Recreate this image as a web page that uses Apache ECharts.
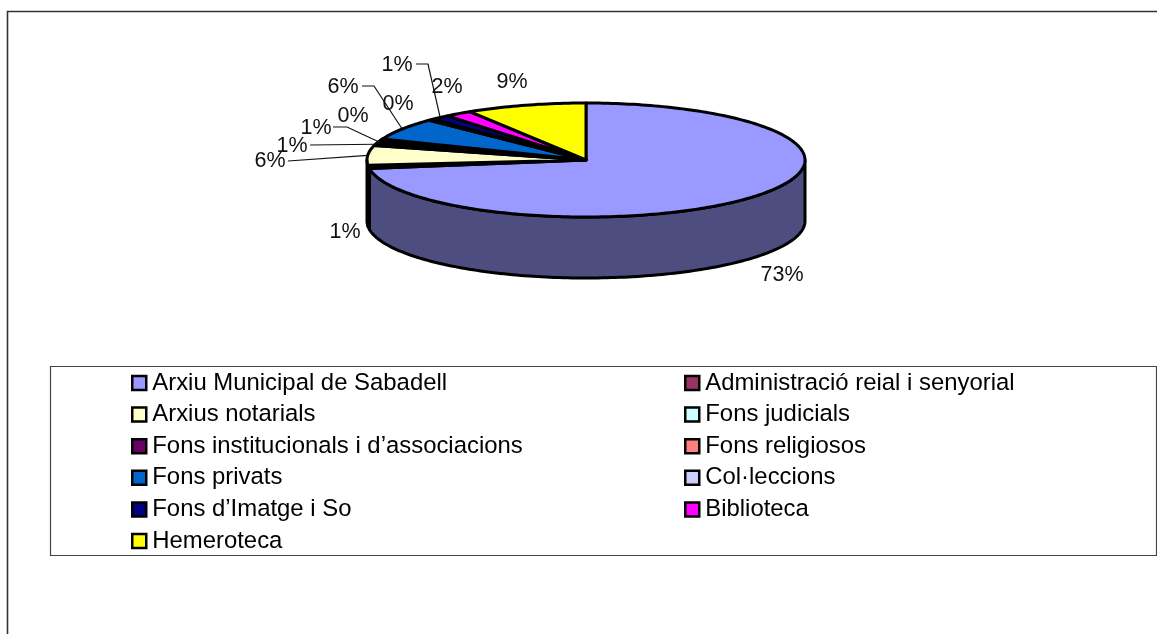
<!DOCTYPE html>
<html>
<head>
<meta charset="utf-8">
<title>Arxiu Municipal de Sabadell</title>
<script src="https://cdn.jsdelivr.net/npm/echarts@6/dist/echarts.min.js"></script>
<style>
  html, body { margin: 0; padding: 0; background: #fff; }
  #chart { width: 1157px; height: 634px; }
</style>
</head>
<body>
<div id="chart"></div>
<script>
const categories = [
  "Arxiu Municipal de Sabadell",
  "Administració reial i senyorial",
  "Arxius notarials",
  "Fons judicials",
  "Fons institucionals i d’associacions",
  "Fons religiosos",
  "Fons privats",
  "Col·leccions",
  "Fons d’Imatge i So",
  "Biblioteca",
  "Hemeroteca",
];
// percentages
const values = [72.6, 0.9, 5.6, 0.7, 0.8, 0.4, 6.3, 0.4, 1.4, 2.0, 8.9];
const colors = [
  "#9999ff", "#993366", "#ffffcc", "#ccffff", "#660066", "#ff8080",
  "#0066cc", "#ccccff", "#000080", "#ff00ff", "#ffff00",
];

// label centre and optional leader elbow for every slice, same order as categories
const labelLayout = [
  { x: 782, y: 275 },
  { x: 345, y: 232 },
  { x: 270, y: 161, leader: [[288, 161]] },
  { x: 292, y: 146, leader: [[310, 145]] },
  { x: 316, y: 128, leader: [[333, 127], [347, 127]] },
  { x: 353, y: 116 },
  { x: 343, y: 87, leader: [[362, 86], [374, 86]] },
  { x: 398, y: 104 },
  { x: 397, y: 65, leader: [[416, 64], [428, 64]] },
  { x: 447, y: 87 },
  { x: 512, y: 82 },
];

const pie = { cx: 586, cy: 160, rx: 219, ry: 57, depth: 61 };
const total = values.reduce((a, b) => a + b, 0);

// angle is clockwise from the top of the pie
function rim(angle, drop) {
  return [
    pie.cx + pie.rx * Math.sin(angle),
    pie.cy - pie.ry * Math.cos(angle) + (drop || 0),
  ];
}

function arc(from, to, drop) {
  const steps = Math.max(2, Math.ceil(Math.abs(to - from) / 0.02));
  const pts = [];
  for (let i = 0; i <= steps; i++) {
    pts.push(rim(from + ((to - from) * i) / steps, drop));
  }
  return pts;
}

function darken(hex) {
  const n = parseInt(hex.slice(1), 16);
  return "rgb(" + [(n >> 16) & 255, (n >> 8) & 255, n & 255].map((c) => Math.round(c / 2)).join(",") + ")";
}

let running = 0;
const starts = values.map((v) => {
  const s = running;
  running += v;
  return s;
});

function sliceRenderer(index) {
  return function () {
    const from = (starts[index] / total) * Math.PI * 2;
    const to = ((starts[index] + values[index]) / total) * Math.PI * 2;
    const children = [];

    // side wall, only the front half of the disc shows
    const wallFrom = Math.max(from, Math.PI / 2);
    const wallTo = Math.min(to, (Math.PI * 3) / 2);
    if (wallTo > wallFrom) {
      children.push({
        type: "polygon",
        shape: { points: arc(wallFrom, wallTo, 0).concat(arc(wallTo, wallFrom, pie.depth)) },
        style: { fill: darken(colors[index]), stroke: "#000", lineWidth: 3, lineJoin: "round" },
      });
    }

    children.push({
      type: "polygon",
      shape: { points: [[pie.cx, pie.cy]].concat(arc(from, to, 0)) },
      style: { fill: colors[index], stroke: "#000", lineWidth: 3, lineJoin: "round" },
    });

    const lab = labelLayout[index];
    if (lab.leader) {
      children.push({
        type: "polyline",
        shape: { points: lab.leader.concat([rim((from + to) / 2, 0)]) },
        style: { fill: null, stroke: "#111", lineWidth: 1.2 },
      });
    }
    children.push({
      type: "text",
      z2: 10,
      style: {
        x: lab.x,
        y: lab.y,
        text: Math.round((values[index] / total) * 100) + "%",
        fill: "#111",
        font: "21.5px 'Liberation Sans', Arial, sans-serif",
        align: "center",
        verticalAlign: "middle",
      },
    });
    return { type: "group", children: children };
  };
}

const chart = echarts.init(document.getElementById("chart"));

const legendText = { color: "#000", fontSize: 23.9, fontFamily: "'Liberation Sans', Arial, sans-serif", padding: [0, 0, 0, 1] };
const legendBase = {
  orient: "vertical",
  top: 371,
  icon: "rect",
  itemWidth: 14,
  itemHeight: 14,
  itemGap: 7.6,
  padding: 0,
  selectedMode: false,
  itemStyle: { borderColor: "#000", borderWidth: 2.5 },
  textStyle: legendText,
};

chart.setOption({
  animation: false,
  backgroundColor: "#fff",
  legend: [
    Object.assign({}, legendBase, { left: 131, data: categories.filter((c, i) => i % 2 === 0) }),
    Object.assign({}, legendBase, { left: 684, data: categories.filter((c, i) => i % 2 === 1) }),
  ],
  graphic: [
    // outer frame, runs off the page on the right and bottom
    { type: "polyline", silent: true, shape: { points: [[7.5, 634], [7.5, 11.5], [1157, 11.5]] }, style: { fill: null, stroke: "#333", lineWidth: 1.6 } },
    { type: "rect", silent: true, shape: { x: 50.5, y: 366.5, width: 1106, height: 189 }, style: { fill: null, stroke: "#444", lineWidth: 1.2 } },
  ],
  series: categories.map((name, i) => ({
    type: "custom",
    name: name,
    coordinateSystem: "none",
    silent: true,
    itemStyle: { color: colors[i] },
    data: [values[i]],
    renderItem: sliceRenderer(i),
  })),
});
</script>
</body>
</html>
